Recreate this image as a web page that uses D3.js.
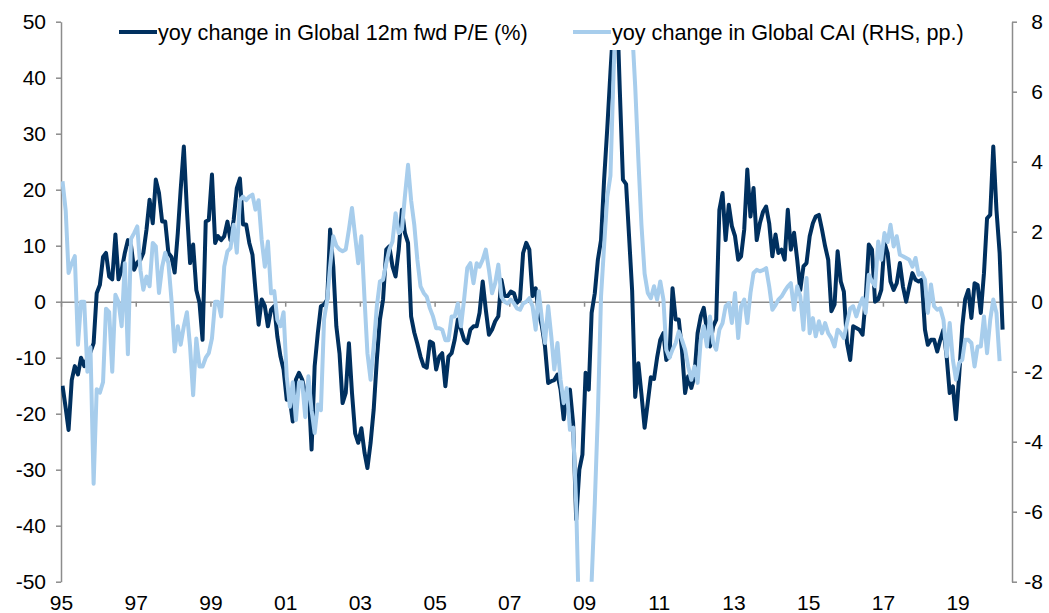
<!DOCTYPE html>
<html>
<head>
<meta charset="utf-8">
<script src="https://cdn.jsdelivr.net/npm/d3@7"></script>
<style>
	body { margin: 0; background: #fff; }
	svg { display: block; font-family: 'Liberation Sans', Arial, sans-serif; }
	.axis path, .axis line { stroke: #8c8c8c; stroke-width: 1.5; }
	.axis text { font-size: 21px; fill: #000; }
	.legend text { font-size: 21.6px; fill: #000; }
</style>
</head>
<body>
<div id="chart"></div>
<script>
// yoy change in Global 12m fwd P/E (%), monthly, Jan 1995 - Mar 2020
let peYoy = [
	-15, -19, -22.9, -14, -11.5, -13, -10, -11.5, -10, -9, -7.4, 1.5, // 1995
	3, 8, 8.7, 4.5, 4, 12, 4, 5.7, 8.7, 11, 10, 5.7, // 1996
	7, 7.5, 8.7, 12.9, 18.2, 14, 21.8, 19.4, 14.3, 14.3, 8.7, 8, // 1997
	5.2, 12.3, 20, 27.7, 16.4, 6.9, 10.2, 2.1, -0.2, -6.8, 14.3, 14.6, // 1998
	22.7, 10.5, 11.7, 11, 11.7, 14.3, 11, 14.6, 20.3, 22, 13.8, 13.8, // 1999
	10.5, 8.4, 2.1, -4.1, 0.4, -0.8, -4.4, -1.4, -0.8, -6.2, -9.8, -12.1, // 2000
	-17.5, -17.5, -21.4, -13.9, -12.7, -13.9, -16.3, -15.1, -26.4, -11.5, -5.6, -0.8, // 2001
	-0.5, 0.4, 12.9, 6.3, -4.4, -9.2, -18.1, -16.3, -7.4, -16.3, -23.5, -25.2, // 2002
	-22.6, -27, -29.7, -25.2, -19.3, -10.4, -3.2, 0.4, 9.3, 9.9, 6.3, 4.5, // 2003
	9.3, 16.4, 12.3, 10.5, -2.6, -5.5, -7.5, -9.8, -11.5, -11.8, -7.1, -7.4, // 2004
	-12.1, -9.8, -9.2, -15.1, -9.8, -9.2, -6.8, -3.2, -5, -6.8, -7.4, -5, // 2005
	-4.4, -4.4, -2, 3.6, -1.4, -5.9, -5, -3.5, -2.6, 3.9, 1, 1, // 2006
	1.8, 1.5, -0.2, 0.4, 8.7, 10.5, 9.3, 1, 2.4, -2, -4.4, -8, // 2007
	-14.5, -14.2, -14, -13, -15.7, -21, -16.3, -15.7, -21.7, -38.9, -30, -27.3, // 2008
	-12.7, -15.7, -2, 1.5, 7.5, 11, 21.8, 31, 41, 50, 55, 38, // 2009
	21.8, 21, 12, 2, -17, -11, -16.5, -22.5, -18, -13.5, -13.8, -10, // 2010
	-6.8, -5.6, -10.4, -9.8, 2.4, -3.2, -3.2, -8.6, -16.3, -13.3, -15.4, -13.3, // 2011
	-5.6, -2.6, -1.1, -5, -8, -4.4, -3.2, 16.4, 19.4, 11, 17.3, 13.5, // 2012
	11.7, 7.5, 8.1, 12.9, 23.6, 15.2, 20.3, 11, 14, 16, 17, 14, // 2013
	8.1, 12, 8.7, 9.3, 7.5, 16.4, 9.3, 12.3, 7.5, 2.1, 6.3, 6.9, // 2014
	11.7, 14, 15.2, 15.5, 12.9, 9.9, 7.5, -1.7, -0.5, 9, 3.6, 1.8, // 2015
	-7.4, -10.4, -4.4, -4.7, -5, -5.9, 0.4, 10.2, 9.3, 0, 0.4, 2.1, // 2016
	10.5, 8.7, 3.6, 2.1, 3.3, 6.9, 2.7, 0, 2.7, 5.1, 3.9, 3.6, // 2017
	3.9, -5, -7.7, -6.8, -6.8, -8.9, -6.8, -5, -9.8, -16.3, -15.1, -21, // 2018
	-13.3, -4.4, 0.4, 2.1, -2.9, 3.3, 3, -2, 5.1, 14.9, 15.5, 27.7, // 2019
	16.4, 8.7, -5 // 2020
];

// yoy change in Global CAI (pp., right axis), monthly, Jan 1995 - Feb 2020
let caiYoy = [
	3.44, 2.6, 0.82, 1.1, 1.3, -1.23, 0, 0, -2, -1.3, -5.2, -2.5, // 1995
	-2.6, -2.3, -0.2, -0.3, -2, 0.2, 0, -0.7, 1.1, -1.5, 1.8, 1.96, // 1996
	2.15, 0.9, 0.34, 0.72, 0.44, 1.68, 1.58, 0.25, 1, 1.4, 1.1, 0.06, // 1997
	-1.42, -0.7, -1.23, -0.7, -0.3, -1.28, -2.67, -1.05, -1.85, -1.85, -1.6, -1.47, // 1998
	-1.05, 0, 0, -0.42, 1, 1.44, 1.53, 2.2, 1.4, 2.9, 3, 2.9, // 1999
	3, 3.06, 2.63, 2.9, 1.77, 1, 1.72, 0.24, 0.3, -0.52, -0.7, -0.3, // 2000
	-2.14, -3, -2.3, -3.38, -2.3, -2.3, -3.3, -2.13, -3.1, -3.75, -2.94, -3.1, // 2001
	-0.5, 0.06, 1, 1.87, 1.6, 1.49, 1.44, 1.49, 2.06, 2.68, 1.87, 1.1, // 2002
	1.87, 0.06, -1.47, -2.23, -1.28, -0.13, 0.58, 0.63, 1.1, 1.49, 1.72, 2.53, // 2003
	1.96, 2.06, 3, 3.91, 2.9, 2.2, 1.2, 0.44, 0.25, 0.14, -0.19, -0.42, // 2004
	-0.76, -0.76, -0.8, -1.1, -1.1, -0.42, -0.42, -0.05, -0.7, 0.06, 0.96, 1.1, // 2005
	0.53, 1.1, 1, 1.2, 1.49, 0.91, 0.24, 0.53, 1.06, 0.14, 0, -0.05, // 2006
	0.06, -0.05, -0.19, -0.23, -0.05, 0, 0.1, -0.13, -0.8, 0.3, -0.5, -1.18, // 2007
	-0.13, -1, -1.94, -1.18, -2.23, -2.9, -2.47, -3.66, -3.6, -5.8, -9.5, -12, // 2008
	-12, -10, -8, -5.75, -3.2, 0.15, 1.6, 3, 3.6, 6.5, 9, 10.2, // 2009
	10.5, 10.2, 9.3, 7.8, 6.15, 4.06, 2.2, 0.8, 0.25, 0.1, 0.44, 0.06, // 2010
	0.58, 0.06, -1.37, -1.6, -1.37, -1.18, -0.85, -1.09, -1.37, -1.85, -2.23, -1.85, // 2011
	-2.32, -1.09, -0.7, -1.28, -0.42, -1.18, -1.37, -0.8, -0.61, -0.13, -0.04, -0.61, // 2012
	0.25, -1.04, -0.13, 0.06, -0.61, 0.25, 0.82, 0.91, 0.87, 0.9, 0.96, 0.44, // 2013
	-0.23, -0.1, 0.06, 0.15, 0.3, 0.44, 0.53, -0.23, 0.44, 0.15, -0.8, 0.68, // 2014
	-0.9, -0.47, -0.99, -0.56, -0.9, -0.61, -0.9, -1.04, -1.28, -0.8, -0.9, -1.04, // 2015
	-0.61, -0.19, -0.13, -0.42, -0.13, 0.1, -0.32, 0.77, 0.58, 0.44, 1.72, 1.2, // 2016
	1.96, 1.7, 2.2, 1.58, 1.87, 1.34, 1.3, 1.25, 1.2, 1, 1.25, 0.77, // 2017
	0.82, 0.63, -0.32, 0.49, -0.13, -0.23, -0.19, -0.52, -1.56, -0.61, -1.66, -2.23, // 2018
	-1.75, -1.66, -1.09, -1.09, -1.18, -1.85, -1.28, -1.28, -0.42, -1.47, -0.52, 0.06, // 2019
	-0.32, -1.7 // 2020
];

let leftTicks = [-50, -40, -30, -20, -10, 0, 10, 20, 30, 40, 50];
let rightTicks = [-8, -6, -4, -2, 0, 2, 4, 6, 8];
let yearTicks = [1995, 1997, 1999, 2001, 2003, 2005, 2007, 2009, 2011, 2013, 2015, 2017, 2019];
let seriesNames = ['yoy change in Global 12m fwd P/E (%)', 'yoy change in Global CAI (RHS, pp.)'];
let seriesColors = ['#00305f', '#a7cdec'];

let width = 1049,
	height = 613;
let plot = { left: 61, right: 1012, top: 21.7, bottom: 581.7 };

// one category per month, the line points sit in the middle of each month
let months = d3.timeMonth.range(new Date(1995, 0, 1), new Date(2020, 3, 1));

let x = d3.scaleTime()
	.domain([new Date(1995, 0, 1), new Date(2020, 5, 16)])
	.range([plot.left, plot.right]);
let yLeft = d3.scaleLinear().domain([-50, 50]).range([plot.bottom, plot.top]);
let yRight = d3.scaleLinear().domain([-8, 8]).range([plot.bottom, plot.top]);

let svg = d3.select('#chart')
	.append('svg')
	.attr('width', width)
	.attr('height', height);

svg.append('defs')
	.append('clipPath')
	.attr('id', 'plot-clip')
	.append('rect')
	.attr('x', plot.left)
	.attr('y', plot.top)
	.attr('width', plot.right - plot.left)
	.attr('height', plot.bottom - plot.top);

let yearDates = yearTicks.map((y) => new Date(y, 0, 1));
let plainNumber = (d) => String(d);

// left axis
svg.append('g')
	.attr('class', 'axis')
	.attr('transform', 'translate(' + plot.left + ',0)')
	.call(d3.axisLeft(yLeft).tickValues(leftTicks).tickSize(5).tickSizeOuter(0).tickPadding(10).tickFormat(plainNumber));

// right axis, labels right aligned like the original
let rightAxis = svg.append('g')
	.attr('class', 'axis')
	.attr('transform', 'translate(' + plot.right + ',0)')
	.call(d3.axisRight(yRight).tickValues(rightTicks).tickSize(5).tickSizeOuter(0).tickFormat(plainNumber));
rightAxis.selectAll('text').attr('x', 31).attr('text-anchor', 'end');

// category axis crosses at zero
svg.append('g')
	.attr('class', 'axis')
	.attr('transform', 'translate(0,' + yLeft(0) + ')')
	.call(d3.axisBottom(x).tickValues(yearDates).tickSize(5).tickSizeOuter(0).tickFormat(''));

// year labels sit at the bottom of the chart
let labelAxis = svg.append('g')
	.attr('class', 'axis')
	.attr('transform', 'translate(0,' + plot.bottom + ')')
	.call(d3.axisBottom(x).tickValues(yearDates).tickSize(0).tickPadding(13).tickFormat(d3.timeFormat('%y')));
labelAxis.select('.domain').remove();

let midMonth = (i) => d3.timeDay.offset(months[i], 15);

let lines = svg.append('g').attr('clip-path', 'url(#plot-clip)');

let peLine = d3.line()
	.x((d, i) => x(midMonth(i)))
	.y((d) => yLeft(d));
let caiLine = d3.line()
	.x((d, i) => x(midMonth(i)))
	.y((d) => yRight(d));

lines.append('path')
	.datum(peYoy)
	.attr('d', peLine)
	.attr('fill', 'none')
	.attr('stroke', seriesColors[0])
	.attr('stroke-width', 4)
	.attr('stroke-linejoin', 'round');

lines.append('path')
	.datum(caiYoy)
	.attr('d', caiLine)
	.attr('fill', 'none')
	.attr('stroke', seriesColors[1])
	.attr('stroke-width', 4)
	.attr('stroke-linejoin', 'round');

// legend sits on a white box that hides the top of the 2009 spikes
let legend = svg.append('g').attr('class', 'legend');
legend.append('rect')
	.attr('x', 112)
	.attr('y', 8)
	.attr('width', 865)
	.attr('height', 42)
	.attr('fill', '#fff');

let legendX = [119, 573];
let legendY = 32;
let items = legend.selectAll('g.item')
	.data(seriesNames)
	.enter()
	.append('g')
	.attr('class', 'item')
	.attr('transform', (d, i) => 'translate(' + legendX[i] + ',' + legendY + ')');

items.append('line')
	.attr('x1', 0)
	.attr('x2', 38)
	.attr('stroke', (d, i) => seriesColors[i])
	.attr('stroke-width', 4);

items.append('text')
	.attr('x', 39)
	.attr('dy', '0.35em')
	.text((d) => d);
</script>
</body>
</html>
